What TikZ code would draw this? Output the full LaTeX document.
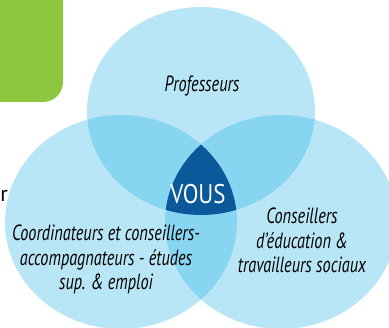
\documentclass[tikz,border=0pt]{standalone}
\usepackage{fontspec}
\setmainfont{PT Sans}
\newfontfamily\condfont{PT Sans}[FakeStretch=0.74]
\newfontfamily\vousfont{PT Sans}[FakeStretch=0.85]
\definecolor{lightblue}{HTML}{B8E6F7}
\definecolor{midblue}{HTML}{87D5F1}
\definecolor{darkblue}{HTML}{0B599A}
\definecolor{leafgreen}{HTML}{8DC63F}
\tikzset{
  lbl/.style={align=center, text=black, inner sep=0pt,
    font=\condfont\itshape\fontsize{22}{24.5}\selectfont},
  vous/.style={text=white, inner sep=0pt, font=\vousfont\fontsize{27}{30}\selectfont},
}
\begin{document}
\begin{tikzpicture}[x=1pt,y=-1pt]
\useasboundingbox (0,0) rectangle (389,328);
\clip (0,0) rectangle (389,328);
% green tab
\fill[leafgreen, rounded corners=20pt] (-40,-40) rectangle (63,102);
% circles
\fill[lightblue] (201,111) ellipse [x radius=114pt, y radius=104pt];
\fill[lightblue] (121,222) ellipse [x radius=116pt, y radius=107pt];
\fill[lightblue] (281,222) ellipse [x radius=116pt, y radius=107pt];
% pairwise overlaps
\begin{scope}
  \clip (201,111) ellipse [x radius=114pt, y radius=104pt];
  \fill[midblue] (121,222) ellipse [x radius=116pt, y radius=107pt];
  \fill[midblue] (281,222) ellipse [x radius=116pt, y radius=107pt];
\end{scope}
\begin{scope}
  \clip (121,222) ellipse [x radius=116pt, y radius=107pt];
  \fill[midblue] (281,222) ellipse [x radius=116pt, y radius=107pt];
\end{scope}
% triple overlap
\begin{scope}
  \clip (201,111) ellipse [x radius=114pt, y radius=104pt];
  \clip (121,222) ellipse [x radius=116pt, y radius=107pt];
  \fill[darkblue] (281,222) ellipse [x radius=116pt, y radius=107pt];
\end{scope}
% texts
\node[lbl, anchor=base] (prof) at (202,92) {Professeurs};
\node[lbl, anchor=base] (coord) at (106,290) {Coordinateurs et conseillers-\\accompagnateurs - études\\sup. \& emploi};
\node[lbl, anchor=base] (cons) at (302,273) {Conseillers\\d’éducation \&\\travailleurs sociaux};
\node[vous, anchor=base] (vous) at (198,204) {VOUS};
\node[anchor=base east, inner sep=0pt, font=\fontsize{22}{24}\selectfont] (cut) at (8,202) {r};
\end{tikzpicture}
\end{document}
